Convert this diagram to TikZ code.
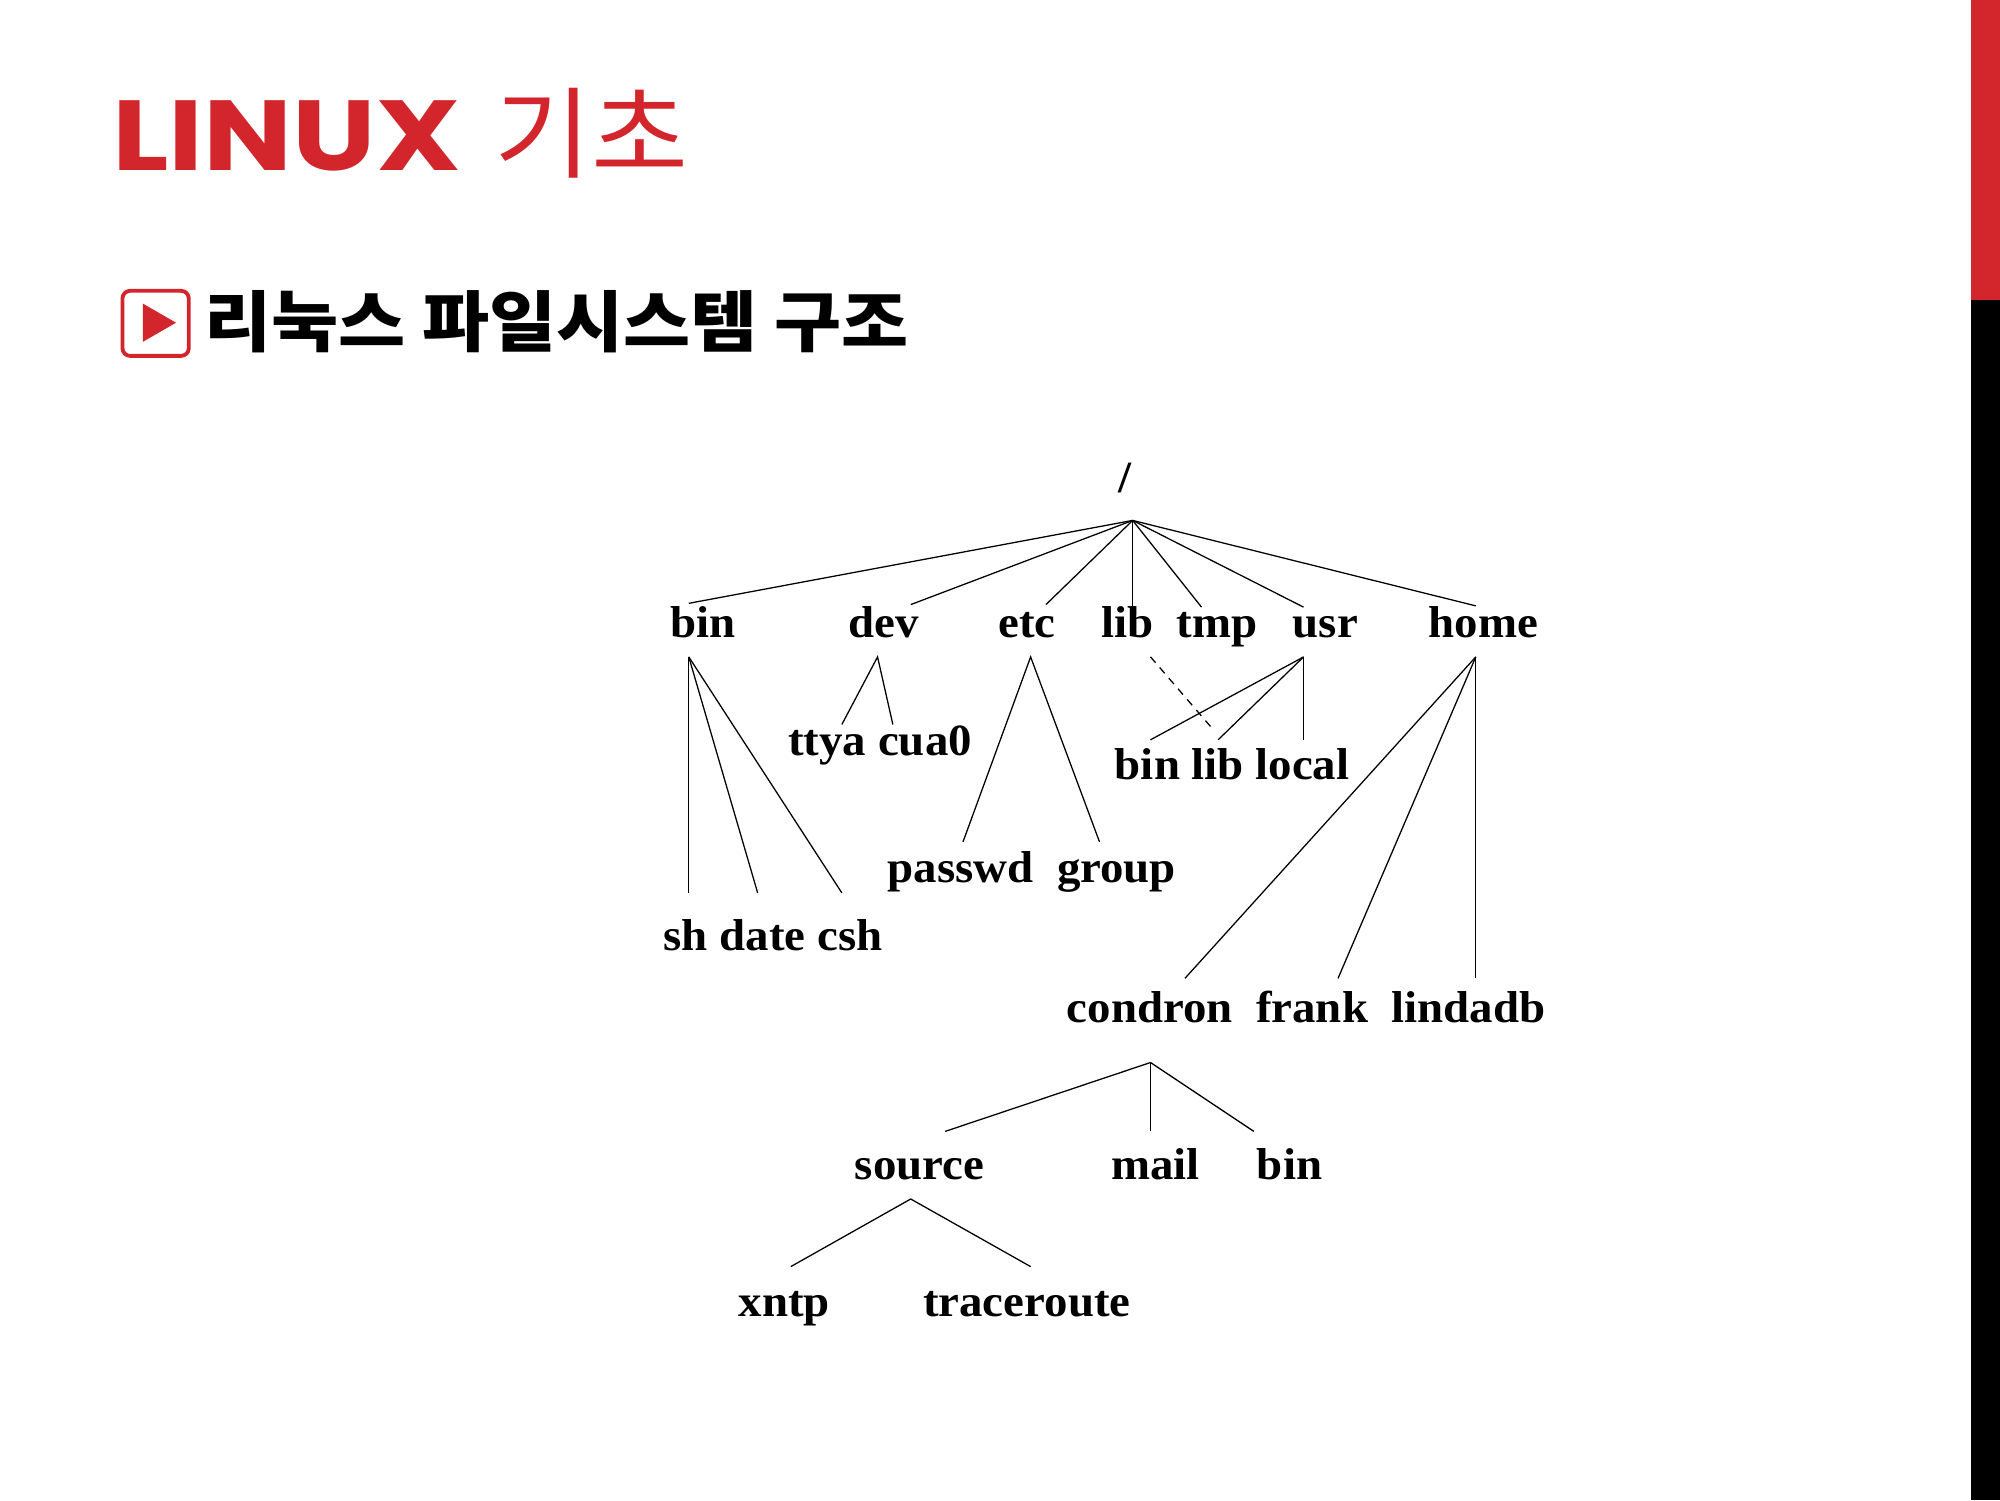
\documentclass[tikz,border=0pt]{standalone}
\usepackage{fontspec}
\setmainfont{Liberation Serif}
\newfontfamily\kr{Noto Sans CJK KR}
\newfontfamily\ttl{Poppins}
\definecolor{ttlred}{RGB}{211,38,44}
\begin{document}
\begin{tikzpicture}[x=1pt,y=-1pt,
  lbl/.style={font=\fontsize{35}{38}\bfseries\selectfont,inner sep=0pt,anchor=base,xscale=1.05},
  edge/.style={line width=1pt,black}]
\useasboundingbox (0,0) rectangle (1568,1176);
\fill[white] (0,0) rectangle (1568,1176);
\fill[ttlred] (1545,0) rectangle (1568,235);
\fill[black] (1545,235) rectangle (1568,1176);
\node[anchor=base west,inner sep=0pt,text=ttlred] (title) at (88,134)
  {\ttl\bfseries\fontsize{78}{80}\selectfont\scalebox{1.19}[1]{LINUX}\hspace{26pt}{\kr\mdseries\scalebox{1.06}[1]{기초}}};
\draw[ttlred,line width=3pt,rounded corners=6pt] (96,228) rectangle (148,279);
\fill[ttlred] (112,238) -- (138,253) -- (112,268) -- cycle;
\node[anchor=west,inner sep=0pt] (sub) at (160,252) {\kr\bfseries\fontsize{52}{56}\selectfont\scalebox{1.1}[1]{리눅스 파일시스템 구조}};
% labels
\node[lbl] (root) at (882,386) {/};
\node[lbl] (bin) at (551,500) {bin};
\node[lbl] (dev) at (693,500) {dev};
\node[lbl] (etc) at (805,500) {etc};
\node[lbl] (lib) at (884,500) {lib};
\node[lbl] (tmp) at (954,500) {tmp};
\node[lbl] (usr) at (1039,500) {usr};
\node[lbl] (home) at (1163,500) {home};
\node[lbl] (tc) at (690,592) {ttya cua0};
\node[lbl] (sdc) at (606,745) {sh date csh};
\node[lbl] (pg) at (809,692) {passwd\ \ group};
\node[lbl] (bll) at (966,611) {bin lib local};
\node[lbl] (cfl) at (1024,802) {condron\ \ frank\ \ lindadb};
\node[lbl] (source) at (721,925) {source};
\node[lbl] (mail) at (906,925) {mail};
\node[lbl] (bin2) at (1011,925) {bin};
\node[lbl] (xntp) at (615,1032) {xntp};
\node[lbl] (trace) at (805,1032) {traceroute};
% junctions
\coordinate (r) at (888,408);
\foreach \n/\x/\y in {a/540/473,b/714/474,c/820/474,d/888/477,e/942/476,f/1022/476,g/1157/475}
  \coordinate (r\n) at (\x,\y);
\foreach \n in {a,b,c,d,e,f,g} \draw[edge] (r) -- (r\n);
\coordinate (dv) at (688,515);
\coordinate (dv1) at (660,568); \coordinate (dv2) at (700,568);
\draw[edge] (dv1) -- (dv) -- (dv2);
\coordinate (bn) at (540,515);
\foreach \n/\x in {1/540,2/594,3/660} {\coordinate (bn\n) at (\x,700); \draw[edge] (bn) -- (bn\n);}
\coordinate (et) at (808,515);
\coordinate (et1) at (755,660); \coordinate (et2) at (862,660);
\draw[edge] (et1) -- (et) -- (et2);
\coordinate (lb) at (902,515); \coordinate (lb1) at (952,573);
\draw[edge,dash pattern=on 6pt off 5pt] (lb) -- (lb1);
\coordinate (us) at (1022,515);
\foreach \n/\x in {1/902,2/955,3/1022} {\coordinate (us\n) at (\x,580); \draw[edge] (us) -- (us\n);}
\coordinate (hm) at (1157,515);
\foreach \n/\x in {1/929,2/1049,3/1157} {\coordinate (hm\n) at (\x,767); \draw[edge] (hm) -- (hm\n);}
\coordinate (cd) at (902,833);
\foreach \n/\x in {1/741,2/902,3/983} {\coordinate (cd\n) at (\x,887); \draw[edge] (cd) -- (cd\n);}
\coordinate (sc) at (714,940);
\coordinate (sc1) at (620,993); \coordinate (sc2) at (808,993);
\draw[edge] (sc1) -- (sc) -- (sc2);
\end{tikzpicture}
\end{document}
